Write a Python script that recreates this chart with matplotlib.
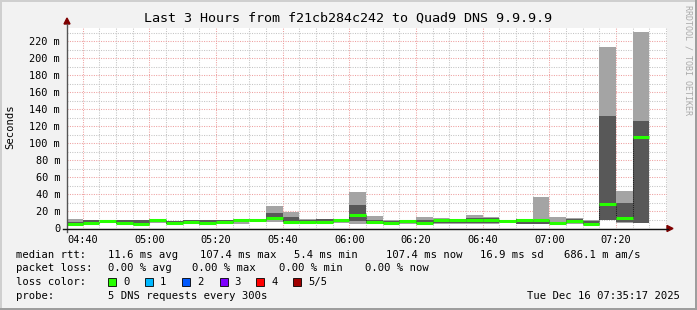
import matplotlib
matplotlib.use("Agg")
import matplotlib.pyplot as plt
from matplotlib.patches import Rectangle, Polygon
from matplotlib.lines import Line2D
from matplotlib.ticker import MultipleLocator, FixedLocator

# ---------------- data ----------------
slot_times = ["04:35", "04:40", "04:45", "04:50", "04:55", "05:00", "05:05", "05:10",
              "05:15", "05:20", "05:25", "05:30", "05:35", "05:40", "05:45", "05:50",
              "05:55", "06:00", "06:05", "06:10", "06:15", "06:20", "06:25", "06:30",
              "06:35", "06:40", "06:45", "06:50", "06:55", "07:00", "07:05", "07:10",
              "07:15", "07:20", "07:25"]
ping_min = [4, 4, 8, 5, 4, 6, 5, 5.5, 4, 6, 5.5, 9, 7, 6, 6, 6, 6, 5.4, 5, 5, 5, 5, 5, 5,
            5, 5, 6, 5, 5, 5.5, 5.5, 4.5, 9.5, 5.8, 5.9]
ping_lo = [5, 5, 8.2, 5.5, 4.5, 8.5, 5.5, 6, 4.5, 6.5, 8.5, 9.3, 9.5, 7, 7, 6.5, 9, 9, 6.5,
           5.3, 6, 5.5, 6, 6, 6, 6, 7, 5.5, 5.5, 5.8, 6, 4.8, 10, 7.8, 6]
median = [5.5, 6, 8.6, 6.6, 5.6, 9.6, 6.6, 7, 5.8, 7.4, 9.4, 9.8, 12.3, 7.8, 7.4, 7.4, 10,
          15.7, 7.8, 5.8, 8.3, 6.4, 9.4, 10, 10, 10, 8.6, 10, 9.2, 6.4, 8.2, 5.4, 28.6,
          12.1, 107.4]
ping_hi = [7, 9.4, 9, 10, 10, 10, 8.6, 9.6, 9.4, 9.4, 9.8, 10.2, 18.4, 13.7, 9.5, 10.4,
           10.5, 27.4, 10.2, 8.6, 9.6, 10.2, 10, 11, 12.5, 12.2, 9.5, 11, 9.5, 7, 11.5,
           8.2, 132, 30.1, 126.2]
ping_max = [10.5, 10, 9.5, 10.3, 10.3, 10.6, 8.8, 10, 9.8, 9.8, 10.5, 10.5, 26.2, 19.6,
            11, 10.6, 11, 42.7, 14.5, 10.2, 10.2, 13.3, 12.2, 11.2, 15.7, 13.3, 10.2,
            11.2, 36.8, 13.5, 12, 10.2, 213.6, 43.9, 230.9]
x_tick_labels = ["04:40", "05:00", "05:20", "05:40", "06:00", "06:20", "06:40", "07:00", "07:20"]
y_ticks = [0, 20, 40, 60, 80, 100, 120, 140, 160, 180, 200, 220]
loss_labels = ["0", "1", "2", "3", "4", "5/5"]
loss_colors = ["#26ff00", "#00b8ff", "#0059ff", "#7e00ff", "#ff0000", "#a00000"]

# ---------------- helpers ----------------
W, H = 697, 310


def tmin(s):
    h, m = s.split(":")
    return int(h) * 60 + int(m)


def fx(px):
    return px / W


def fy(py):
    return 1 - py / H


mono = "DejaVu Sans Mono"
plt.rcParams["font.family"] = mono

fig = plt.figure(figsize=(W / 100, H / 100), dpi=100, facecolor="#f2f2f2")

ax_l, ax_r, ax_t, ax_b = 67, 667, 28.3, 228.3
ax = fig.add_axes([fx(ax_l), fy(ax_b), (ax_r - ax_l) / W, (ax_b - ax_t) / H])
ax.set_facecolor("white")

x_start = 4 * 60 + 35 + 17 / 60
x_end = x_start + 180
ax.set_xlim(x_start, x_end)
ax.set_ylim(0, 235)

# grid
ax.xaxis.set_major_locator(FixedLocator([tmin(t) for t in x_tick_labels]))
ax.xaxis.set_minor_locator(MultipleLocator(5))
ax.yaxis.set_major_locator(FixedLocator(y_ticks))
ax.yaxis.set_minor_locator(MultipleLocator(10))
ax.grid(which="minor", color="#c4c4c4", lw=0.75, ls=(0, (1, 1.3)))
ax.grid(which="major", color="#eea0a0", lw=0.75, ls=(0, (1, 1.3)))
ax.set_axisbelow(True)

ax.set_xticklabels(x_tick_labels)
ax.set_yticklabels([("%d m" % v) if v else "0" for v in y_ticks])
ax.tick_params(which="both", length=0, labelsize=7.4)
ax.tick_params(axis="x", pad=5)
ax.tick_params(axis="y", pad=5)
for s in ax.spines.values():
    s.set_visible(False)

# smoke bars
starts = [tmin(t) for t in slot_times]
ax.bar(starts, [b - a for a, b in zip(ping_min, ping_max)], bottom=ping_min, width=5,
       align="edge", color="#a4a4a4", lw=0, zorder=2)
ax.bar(starts, [b - a for a, b in zip(ping_lo, ping_hi)], bottom=ping_lo, width=5,
       align="edge", color="#585858", lw=0, zorder=3)

# median step transitions (thin dark dotted)
for i in range(len(starts) - 1):
    xb = starts[i] + 5
    ax.plot([xb, xb], [median[i], median[i + 1]], color="#202020", lw=0.75,
            ls=(0, (1, 1)), zorder=4)
# median lines
ax.hlines(median, starts, [s + 5 for s in starts], color="#26ff00", lw=2.2, zorder=5)

# axes lines & arrows
fig.add_artist(Line2D([fx(67), fx(67)], [fy(232), fy(24)], color="#555555", lw=1.0))
fig.add_artist(Line2D([fx(63), fx(668)], [fy(228.5), fy(228.5)], color="#111111", lw=1.0))
fig.add_artist(Polygon([[fx(64), fy(24)], [fx(70), fy(24)], [fx(67), fy(18)]],
                       closed=True, color="#7f0000"))
fig.add_artist(Polygon([[fx(667), fy(225.5)], [fx(667), fy(231.5)], [fx(673), fy(228.5)]],
                       closed=True, color="#7f0000"))

# frame shading
fig.add_artist(Rectangle((0, fy(2)), 1, 2 / H, color="#cfcfcf", lw=0))
fig.add_artist(Rectangle((0, 0), 2 / W, 1, color="#cfcfcf", lw=0))
fig.add_artist(Rectangle((0, 0), 1, 2 / H, color="#9e9e9e", lw=0))
fig.add_artist(Rectangle((1 - 2 / W, 0), 2 / W, 1, color="#9e9e9e", lw=0))

# texts
fig.text(fx(348), fy(18), "Last 3 Hours from f21cb284c242 to Quad9 DNS 9.9.9.9",
         ha="center", va="center", fontsize=9.6, family=mono)
fig.text(fx(10), fy(127), "Seconds", rotation=90, ha="center", va="center",
         fontsize=7.6, family=mono)
fig.text(fx(688), fy(5), "RRDTOOL / TOBI OETIKER", rotation=270, ha="center", va="top",
         fontsize=6.0, color="#aaaaaa", family=mono)

fs = 7.6
rows = [254.7, 268.3, 282.3, 296]
row1 = [(16, "median rtt:"), (107.6, "11.6 ms avg"), (200, "107.4 ms max"),
        (294, "5.4 ms min"), (385.8, "107.4 ms now"), (480, "16.9 ms sd"),
        (563.6, "686.1 m am/s")]
row2 = [(16, "packet loss:"), (107.6, "0.00 % avg"), (192.4, "0.00 % max"),
        (279, "0.00 % min"), (365, "0.00 % now")]
for x, s in row1:
    fig.text(fx(x), fy(rows[0]), s, ha="left", va="center", fontsize=fs, family=mono)
for x, s in row2:
    fig.text(fx(x), fy(rows[1]), s, ha="left", va="center", fontsize=fs, family=mono)
fig.text(fx(16), fy(rows[2]), "loss color:", ha="left", va="center", fontsize=fs, family=mono)
box_x = [108, 145, 182, 219.5, 256, 293]
for bx, lab, col in zip(box_x, loss_labels, loss_colors):
    fig.add_artist(Rectangle((fx(bx), fy(rows[2] + 4)), 8 / W, 8 / H, facecolor=col,
                             edgecolor="black", lw=0.6))
    fig.text(fx(bx + 15), fy(rows[2]), lab, ha="left", va="center", fontsize=fs, family=mono)
fig.text(fx(16), fy(rows[3]), "probe:", ha="left", va="center", fontsize=fs, family=mono)
fig.text(fx(107.6), fy(rows[3]), "5 DNS requests every 300s", ha="left", va="center",
         fontsize=fs, family=mono)
fig.text(fx(680), fy(rows[3]), "Tue Dec 16 07:35:17 2025", ha="right", va="center",
         fontsize=fs, family=mono)

fig.savefig("out.png", dpi=100, facecolor=fig.get_facecolor())
